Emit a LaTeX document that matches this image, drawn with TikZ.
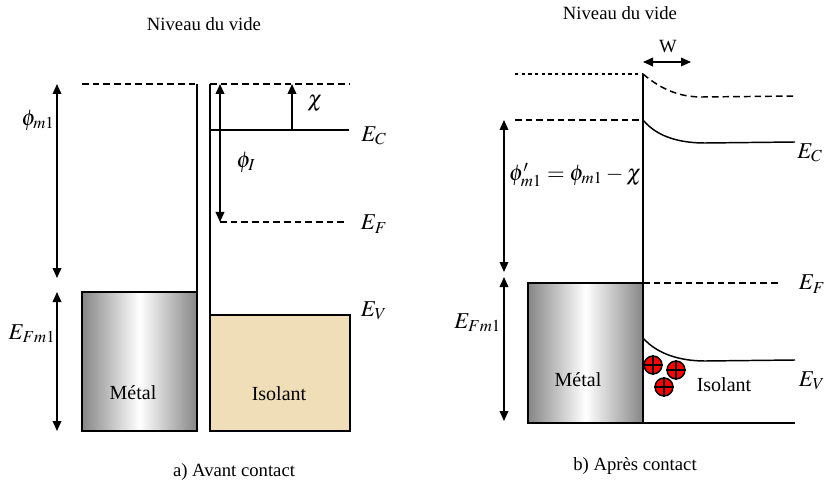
\documentclass[tikz,border=0pt]{standalone}
\usepackage{mathptmx}
\usepackage{fontspec}
\setmainfont{Liberation Serif}
\usetikzlibrary{arrows.meta}

\definecolor{sand}{RGB}{240,222,184}

\tikzset{
  metal/.style={draw, line width=1.2pt, left color=gray!95, right color=gray!95, middle color=white},
  isol/.style={draw, line width=1.2pt, fill=sand},
  level/.style={dash pattern=on 5pt off 3pt},
  fine/.style={dash pattern=on 2.5pt off 2.5pt, line width=0.8pt},
  hole/.style={circle, draw, line width=1.1pt, fill=red, inner sep=0pt, minimum size=13.5pt},
  lab/.style={font=\fontsize{17}{19}\selectfont, inner sep=1pt},
  mat/.style={font=\fontsize{15}{17}\selectfont},
  captxt/.style={font=\fontsize{14}{16}\selectfont}
}

\begin{document}
\begin{tikzpicture}[x=0.75pt, y=-0.75pt, line width=1.1pt, >={Triangle[width=6.5pt,length=7.5pt]}]
  \useasboundingbox (0,0) rectangle (826,485);

  % a) avant contact
  \node[captxt] (videA) at (204,24) {Niveau du vide};

  \coordinate (mTop) at (82,84);
  \coordinate (mEdge) at (197,84);
  \draw[level] (mTop) -- (mEdge);
  \draw (mEdge) -- (197,292);
  \draw[metal] (82,292) rectangle (197,431);
  \node[mat] (metA) at (133,393) {Métal};

  \coordinate (a1) at (57,84);
  \coordinate (a2) at (57,278);
  \coordinate (a3) at (57,292);
  \coordinate (a4) at (57,431);
  \draw[<->] (a1) -- (a2);
  \draw[<->] (a3) -- (a4);
  \node[lab] (phim) at (38,120) {$\phi_{m1}$};
  \node[lab] (efm) at (32,334) {$E_{Fm1}$};

  \coordinate (iTop) at (210,84);
  \draw (iTop) -- (210,315);
  \draw[isol] (210,315) rectangle (350,431);
  \node[mat] (isoA) at (279,394) {Isolant};
  \draw[level] (iTop) -- (350,84);

  \coordinate (ec1) at (210,130);
  \coordinate (ec2) at (349,130);
  \draw (ec1) -- (ec2);
  \node[lab] (ecA) at (374,136) {$E_C$};

  \coordinate (chi1) at (292,130);
  \coordinate (chi2) at (292,84);
  \draw[->] (chi1) -- (chi2);
  \node[lab] (chiA) at (315,104) {$\chi$};

  \coordinate (phi1) at (220,84);
  \coordinate (phi2) at (220,222);
  \draw[<->] (phi1) -- (phi2);
  \node[lab] (phiI) at (246,162) {$\phi_I$};

  \draw[level] (phi2) -- (347,222);
  \node[lab] (efA) at (374,224) {$E_F$};
  \node[lab] (evA) at (374,311) {$E_V$};

  \node[captxt] (capA) at (234,472) {a) Avant contact};

  % b) apres contact
  \node[captxt] (videB) at (620,13) {Niveau du vide};

  \coordinate (w1) at (643,62);
  \coordinate (w2) at (691,62);
  \draw[<->] (w1) -- (w2);
  \node[captxt] (wB) at (668,47) {W};

  \coordinate (j) at (643,74);
  \draw[fine] (515,74) -- (j);
  \draw[level] (j) .. controls (662,90) and (680,97) .. (702,97) -- (795,96);
  \draw (j) -- (643,423);

  \coordinate (jc) at (643,120);
  \draw[level] (515,120) -- (jc);
  \draw (jc) .. controls (658,138) and (682,143) .. (705,143) -- (795,142);
  \node[lab] (ecB) at (810,153) {$E_C$};

  \coordinate (b1) at (504,120);
  \coordinate (b2) at (504,272);
  \coordinate (b3) at (504,277);
  \coordinate (b4) at (504,421);
  \draw[<->] (b1) -- (b2);
  \draw[<->] (b3) -- (b4);
  \node[lab, anchor=west] (phip) at (507,175) {$\phi'_{m1}=\phi_{m1}-\chi$};
  \node[lab, anchor=east] (efmB) at (503,323) {$E_{Fm1}$};

  \draw[metal] (528,283) rectangle (643,423);
  \node[mat] (metB) at (578,380) {Métal};

  \draw[level] (643,283) -- (780,283);
  \node[lab] (efB) at (812,284) {$E_F$};

  \coordinate (jv) at (643,338);
  \draw (jv) .. controls (658,355) and (682,361) .. (705,361) -- (795,360);
  \node[lab] (evB) at (812,381) {$E_V$};

  \draw (643,423) -- (795,423);

  \foreach \n/\p in {h1/{(653,365)}, h2/{(676,370)}, h3/{(664,387)}} {
    \node[hole] (\n) at \p {};
    \draw[line width=1.1pt] (\n.north) -- (\n.south) (\n.west) -- (\n.east);
  }
  \node[mat] (isoB) at (724,385) {Isolant};

  \node[captxt] (capB) at (635,466) {b) Après contact};
\end{tikzpicture}
\end{document}
